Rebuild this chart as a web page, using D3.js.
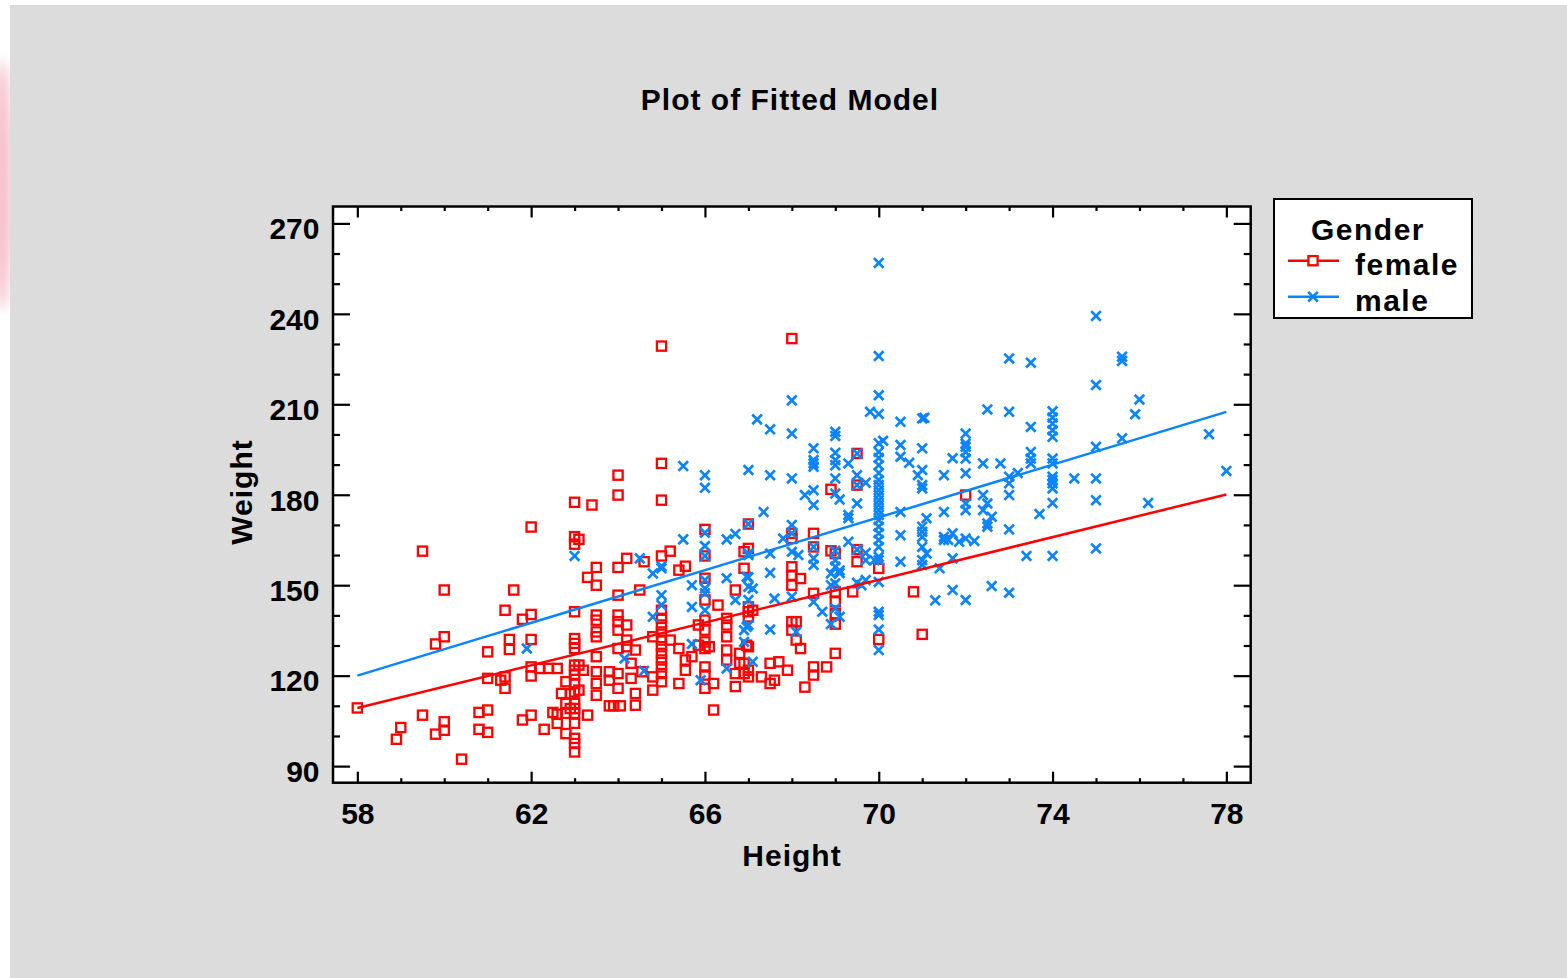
<!DOCTYPE html>
<html>
<head>
<meta charset="utf-8">
<script src="https://cdn.jsdelivr.net/npm/d3@7"></script>
<style>
  html, body { margin: 0; padding: 0; background: #ffffff; }
  svg { display: block; }
  text { font-family: "Liberation Sans", Arial, sans-serif; font-weight: bold; fill: #000; }
</style>
</head>
<body>
<svg id="chart" width="1567" height="978"></svg>
<script>
// ---------------- DATA ----------------
const title = "Plot of Fitted Model";
const xLabel = "Height";
const yLabel = "Weight";
const legendTitle = "Gender";
const groups = ["female", "male"];
const xTickValues = [58, 62, 66, 70, 74, 78];
const yTickValues = [90, 120, 150, 180, 210, 240, 270];

// fitted lines (Height -> Weight) at the ends of the range
const fitHeights = [58, 78];
const femaleFit = [109.3, 180.1];
const maleFit = [120.0, 207.5];

// [Height, Weight]
const femalePoints = [
  [58,109.3],[58.9,98.9],[59,102.8],[59.5,161.3],[59.5,106.9],[59.8,130.5],[59.8,100.6],[60,148.4],[60,132.9],[60,104.7],
  [60,101.9],[60.4,92.3],[60.8,107.8],[60.8,102.2],[61,127.9],[61,119.1],[61,108.6],[61,101.2],[61.3,118.5],[61.4,119.6],
  [61.4,115.8],[61.4,141.7],[61.5,132],[61.5,128.7],[61.6,148.4],[61.8,138.7],[61.8,105.3],[62,169.3],[62,140.3],[62,132],
  [62,122.9],[62,119.9],[62,106.9],[62.2,122.4],[62.4,122.4],[62.6,122.4],[62.3,102.2],[62.5,107.8],[62.6,107.2],
  [62.6,104.2],[62.7,114.1],[62.8,118],[62.8,110.8],[62.9,109.1],[62.8,107.5],[62.8,100.8],[62.9,114],[63.1,115.2],[63.3,106.9],
  [63.3,152.6],[63.2,121.8],[63.1,123.5],
  [63,141.2],[63,132.3],[63,130.7],[63,129],[63,123.5],[63,121.8],[63,120.2],[63,117.4],[63,114.6],[63,110.8],
  [63,109.1],[63,107.5],[63,104.2],[63,99.2],[63,97.5],[63,94.7],[63,177.5],[63.4,176.6],[63,166.1],[63.1,165.2],[63,163.6],
  [63.5,155.9],[63.5,150],[63.5,140.1],[63.5,138.4],[63.5,134.5],[63.5,132.9],[63.5,126.3],[63.5,121.3],[63.5,117.4],[63.5,113.5],
  [63.8,121.3],[63.8,118.5],[63.8,110],[63.9,110],[64.05,110],
  [64,186.5],[64,179.9],[64,155.9],[64,146.7],[64,140.1],[64,137.9],[64,135.1],[64,129],[64,120.7],[64,115.8],
  [64.2,158.9],[64.2,136.8],[64.2,131.8],[64.2,129.6],[64.3,124.1],[64.3,119.1],
  [64.4,128.5],[64.4,114.1],[64.4,110.2],[64.5,148.4],[64.55,121.3],[64.6,157.8],
  [64.8,132.9],[64.8,119.6],[64.8,115.2],
  [65,229.3],[65,190.4],[65,178.2],[65,159.7],[65,141.7],[65,139],[65,136.8],[65,134.5],[65,131.8],[65,129.6],
  [65,127.4],[65,125.2],[65,122.9],[65,120.7],[65,118],
  [65.2,161.3],[65.2,131.8],[65.4,155],[65.4,129],[65.4,117.4],[65.55,156.3],[65.55,125.2],[65.55,121.8],
  [65.7,126.3],[65.85,136.8],[65.85,130.1],
  [66,168.5],[66,159.7],[66,152.3],[66,145.1],[66,138.4],[66,135.1],[66,131.2],[66,129],[66,122.9],[66,120.2],[66,115.8],
  [66.1,129.6],[66.2,108.6],[66.2,117.4],[66.3,143.4],
  [66.5,139],[66.5,136.8],[66.5,132.9],[66.5,128.5],[66.5,125.2],
  [66.7,148.4],[66.7,116.4],[66.7,120.7],[66.8,127.4],[66.8,124.1],
  [66.9,155.6],[66.9,161.1],[66.9,124.1],[66.9,120.7],[66.96,130.1],
  [67,170.3],[67,162.2],[67,142.8],[67,141.2],[67,139.5],[67,129.6],[67,121.8],[67,119.6],[67.1,141.7],
  [67.3,119.6],[67.5,124.1],[67.5,117.4],[67.6,118.5],[67.7,124.6],[67.9,121.8],
  [68,231.8],[68,167.2],[68,165.5],[68,156.1],[68,153.3],[68,150],[68,137.9],[68,135.1],
  [68.1,137.9],[68.1,131.8],[68.2,152.2],[68.2,129],[68.3,116.2],
  [68.5,167.2],[68.5,162.7],[68.5,147.3],[68.5,122.9],[68.5,120.2],[68.8,122.9],
  [68.9,181.8],[68.9,161.4],[69,160.5],[69,147.8],[69,144.5],[69,140.6],[69,137.1],[69,127.4],
  [69.4,147.8],[69.5,193.7],[69.5,183.2],[69.5,161.8],[69.5,157.8],
  [70,155.6],[70,132],[70.8,147.8],[71,133.7],[72,179.9]
];

const malePoints = [
  [61.9,129],[63,159.7],[64.5,158.9],[64.15,125.7],[64.6,121.6],[64.8,153.9],[64.8,139.5],[65,155.6],[65,146.7],[65,143.4],
  [65,156.3],[65.5,189.5],[65.5,165.2],[65.7,150],[65.7,142.8],[65.7,130.5],[65.9,118.5],[66,186.5],[66,182.3],[66,167.4],
  [66,163],[66,159.7],[66,151.7],[66,148.9],[66,147.3],[66,141.7],[66.5,165.2],[66.5,152.3],[66.5,122.4],[66.7,167],
  [66.7,145.1],[67,188.2],[67,170.3],[67,160.5],[67,160],[67,152.6],[67,149.5],[67,145.1],[67,136.8],[66.9,135.1],
  [66.9,131.2],[66.96,152.8],[66.96,136.2],[67.1,148.9],[67.1,124.6],[67.2,205],[67.35,174.3],[67.5,201.7],[67.5,186.5],[67.5,160.5],
  [67.5,154.1],[67.5,135.3],[67.6,145.6],[67.8,165.5],[68,211.3],[68,200.3],[68,185.4],[68,170],[68,167.2],[68,161.1],
  [68,146.2],[68.15,160],[68.1,134.5],[68.3,179.9],[68.5,195.4],[68.5,191.5],[68.5,190.4],[68.5,189.3],[68.5,181.5],[68.5,176.6],
  [68.5,162.7],[68.5,158.9],[68.5,156.7],[68.5,144.5],[68.7,141.2],[68.9,153.9],[68.9,150],[68.9,137.1],[69,200.9],[69,199.5],
  [69,193.9],[69,191.5],[69,189.8],[69,185.4],[69,180.4],[69,161.4],[69,158.3],[69,156.1],[69,150.6],[69,142.3],
  [69.1,178.4],[69.1,154.9],[69.1,154],[69.1,139.5],[69.3,190.4],[69.3,173.3],[69.3,172.2],[69.3,164.4],[69.5,193.7],[69.5,186.5],
  [69.5,183.2],[69.5,177.1],[69.5,161.8],[69.5,150.8],[69.6,150],[69.7,151.7],[69.7,184],[69.7,160.7],[69.7,158.3],[69.8,207.5],
  [69.9,158.3],
  [70,256.9],[70,226],[70,213],[70,206.8],[70,197.1],[70,194.2],[70,192.2],[70,189.8],[70,187.2],[70,184.9],
  [70,183.2],[70,181.5],[70,179.9],[70,178.2],[70,176.6],[70,174.9],[70,173.3],[70,171.6],[70,169.4],[70,167.2],
  [70,165],[70,162.7],[70,159.4],[70,158.3],[70,151.1],[70,141.2],[70,140.1],[70,135.3],[70,128.5],
  [70.1,197.9],[70.5,204.2],[70.5,196.5],[70.5,192.6],[70.5,174.3],[70.5,166.6],[70.5,157.8],[70.7,190.6],[70.9,186.5],[71,205.3],
  [71.05,205.5],[71,195.4],[71,188.2],[71,183.2],[71,182.1],[71,169.4],[71.1,172.2],[71,167.7],[71,166],[71,162.7],
  [71.1,160.5],[71,158.3],[71,156.7],[71.3,145],[71.4,155.6],[71.5,186.5],[71.5,174.3],[71.5,166],[71.5,165],[71.6,165],
  [71.7,192.1],[71.7,167.2],[71.7,158.9],[71.7,148.4],[71.85,164.4],[72,200.3],[72,197],[72,195.9],[72,194.2],[72,192],
  [72,187.1],[72,177.1],[72,174.9],[72,165.5],[72,145.1],[72.2,164.7],[72.4,190.4],[72.4,179.9],[72.4,174.9],[72.5,208.3],
  [72.5,177.1],[72.5,170.5],[72.5,169.4],[72.6,172.7],[72.6,149.7],[72.8,190.4],[73,225.2],[73,207.5],[73,186],[73,183.8],
  [73,179.9],[73,168.5],[73,147.5],[73.2,187.2],[73.4,159.7],[73.5,223.8],[73.5,202.5],[73.5,194.2],[73.5,192],[73.5,190.4],
  [73.7,173.6],[74,207.7],[74,205.6],[74,203.6],[74,201.4],[74,199.2],[74,192],[74,190.4],[74,186],[74,184.9],
  [74,183.8],[74,182.1],[74,177.3],[74,159.7],[74.5,185.4],[75,239.3],[75,216.4],[75,195.9],[75,185.4],[75,178.2],
  [75,162.2],[75.6,225.8],[75.6,224.4],[75.6,198.7],[75.9,206.7],[76,211.6],[76.2,177.3],[77.6,200.1],[78,187.9]
];

// ---------------- STYLE / LAYOUT ----------------
const RED = "#ff0000";
const BLUE = "#0a84ff";
const plot = { left: 333, right: 1250.7, top: 206.5, bottom: 782.7 };

const svg = d3.select("#chart");

// page background
svg.append("rect").attr("x", 0).attr("y", 0).attr("width", 1567).attr("height", 978).attr("fill", "#ffffff");
const defs = svg.append("defs");
defs.append("filter").attr("id", "blur").attr("x", "-200%").attr("width", "500%")
  .append("feGaussianBlur").attr("stdDeviation", 6);
svg.append("ellipse").attr("cx", 2).attr("cy", 185).attr("rx", 10).attr("ry", 125)
  .attr("fill", "#f3a9b9").attr("opacity", 0.75).attr("filter", "url(#blur)");
svg.append("rect").attr("x", 10).attr("y", 5).attr("width", 1557).attr("height", 973).attr("fill", "#dcdcdc");

// scales
const x = d3.scaleLinear().domain([57.44, 78.56]).range([plot.left, plot.right]);
const y = d3.scaleLinear().domain([84.5, 275.6]).range([plot.bottom, plot.top]);

// plot area
svg.append("rect")
  .attr("x", plot.left).attr("y", plot.top)
  .attr("width", plot.right - plot.left).attr("height", plot.bottom - plot.top)
  .attr("fill", "#ffffff");

const xMinor = d3.range(58, 79, 1).filter(v => !xTickValues.includes(v));
const yMinor = d3.range(90, 271, 10).filter(v => !yTickValues.includes(v));

function strip(g) { g.select(".domain").remove(); g.selectAll("line").attr("stroke", "#000").attr("stroke-width", 2.2); }

// bottom axis (major with labels)
const gx = svg.append("g").attr("transform", `translate(0,${plot.bottom})`)
  .call(d3.axisBottom(x).tickValues(xTickValues).tickSize(-11).tickPadding(20).tickFormat(d3.format("d")));
strip(gx);
gx.selectAll("text").attr("font-size", 30).attr("font-family", '"Liberation Sans", Arial, sans-serif')
  .attr("font-weight", "bold").attr("fill", "#000");
svg.append("g").attr("transform", `translate(0,${plot.bottom})`)
  .call(d3.axisBottom(x).tickValues(xMinor).tickSize(-4.5).tickFormat("")).call(strip);
// top axis
svg.append("g").attr("transform", `translate(0,${plot.top})`)
  .call(d3.axisTop(x).tickValues(xTickValues).tickSize(-11).tickFormat("")).call(strip);
svg.append("g").attr("transform", `translate(0,${plot.top})`)
  .call(d3.axisTop(x).tickValues(xMinor).tickSize(-4.5).tickFormat("")).call(strip);

// left axis
const gy = svg.append("g").attr("transform", `translate(${plot.left},0)`)
  .call(d3.axisLeft(y).tickValues(yTickValues).tickSize(-17).tickPadding(13.5).tickFormat(d3.format("d")));
strip(gy);
gy.selectAll("text").attr("font-size", 30).attr("font-family", '"Liberation Sans", Arial, sans-serif')
  .attr("font-weight", "bold").attr("fill", "#000").attr("dy", "0.51em");
svg.append("g").attr("transform", `translate(${plot.left},0)`)
  .call(d3.axisLeft(y).tickValues(yMinor).tickSize(-7).tickFormat("")).call(strip);
// right axis
svg.append("g").attr("transform", `translate(${plot.right},0)`)
  .call(d3.axisRight(y).tickValues(yTickValues).tickSize(-17).tickFormat("")).call(strip);
svg.append("g").attr("transform", `translate(${plot.right},0)`)
  .call(d3.axisRight(y).tickValues(yMinor).tickSize(-7).tickFormat("")).call(strip);

// clip
defs.append("clipPath").attr("id", "clip").append("rect")
  .attr("x", plot.left).attr("y", plot.top)
  .attr("width", plot.right - plot.left).attr("height", plot.bottom - plot.top);
const pg = svg.append("g").attr("clip-path", "url(#clip)");

// female squares
pg.append("g").selectAll("rect").data(femalePoints).join("rect")
  .attr("x", d => x(d[0]) - 4.6).attr("y", d => y(d[1]) - 4.6)
  .attr("width", 9.2).attr("height", 9.2)
  .attr("fill", "none").attr("stroke", RED).attr("stroke-width", 2.3);

// male crosses
const cs = 4.8;
pg.append("g").selectAll("path").data(malePoints).join("path")
  .attr("d", d => {
    const px = x(d[0]), py = y(d[1]);
    return `M${px - cs},${py - cs}L${px + cs},${py + cs}M${px - cs},${py + cs}L${px + cs},${py - cs}`;
  })
  .attr("fill", "none").attr("stroke", BLUE).attr("stroke-width", 2.7);

// fitted lines
const line = d3.line().x(d => x(d[0])).y(d => y(d[1]));
pg.append("path").datum(fitHeights.map((h, i) => [h, maleFit[i]]))
  .attr("d", line).attr("fill", "none").attr("stroke", BLUE).attr("stroke-width", 2.5);
pg.append("path").datum(fitHeights.map((h, i) => [h, femaleFit[i]]))
  .attr("d", line).attr("fill", "none").attr("stroke", RED).attr("stroke-width", 2.5);

// frame
svg.append("rect")
  .attr("x", plot.left).attr("y", plot.top)
  .attr("width", plot.right - plot.left).attr("height", plot.bottom - plot.top)
  .attr("fill", "none").attr("stroke", "#000").attr("stroke-width", 2.5);

// titles
svg.append("text").attr("x", 790).attr("y", 110).attr("text-anchor", "middle")
  .attr("font-size", 30).attr("letter-spacing", 1).text(title);
svg.append("text").attr("x", 792).attr("y", 866).attr("text-anchor", "middle")
  .attr("font-size", 30).attr("letter-spacing", 1).text(xLabel);
svg.append("text").attr("transform", "translate(252,492) rotate(-90)").attr("text-anchor", "middle")
  .attr("font-size", 30).attr("letter-spacing", 1).text(yLabel);

// legend
const lg = svg.append("g");
lg.append("rect").attr("x", 1274).attr("y", 199).attr("width", 198).attr("height", 119)
  .attr("fill", "#ffffff").attr("stroke", "#000").attr("stroke-width", 2);
lg.append("text").attr("x", 1368).attr("y", 240).attr("text-anchor", "middle")
  .attr("font-size", 30).attr("letter-spacing", 1.5).text(legendTitle);
const legendRows = [
  { name: groups[0], color: RED, y: 260.7 },
  { name: groups[1], color: BLUE, y: 296.7 }
];
legendRows.forEach((r, i) => {
  lg.append("line").attr("x1", 1288).attr("x2", 1339).attr("y1", r.y).attr("y2", r.y)
    .attr("stroke", r.color).attr("stroke-width", 2.5);
  if (i === 0) {
    lg.append("rect").attr("x", 1313 - 4.6).attr("y", r.y - 4.6).attr("width", 9.2).attr("height", 9.2)
      .attr("fill", "#fff").attr("stroke", r.color).attr("stroke-width", 2.3);
  } else {
    const px = 1313, py = r.y;
    lg.append("path").attr("d", `M${px - cs},${py - cs}L${px + cs},${py + cs}M${px - cs},${py + cs}L${px + cs},${py - cs}`)
      .attr("stroke", r.color).attr("stroke-width", 2.7);
  }
  lg.append("text").attr("x", 1355).attr("y", r.y + 14.5)
    .attr("font-size", 30).attr("letter-spacing", 1.5).text(r.name);
});
</script>
</body>
</html>
